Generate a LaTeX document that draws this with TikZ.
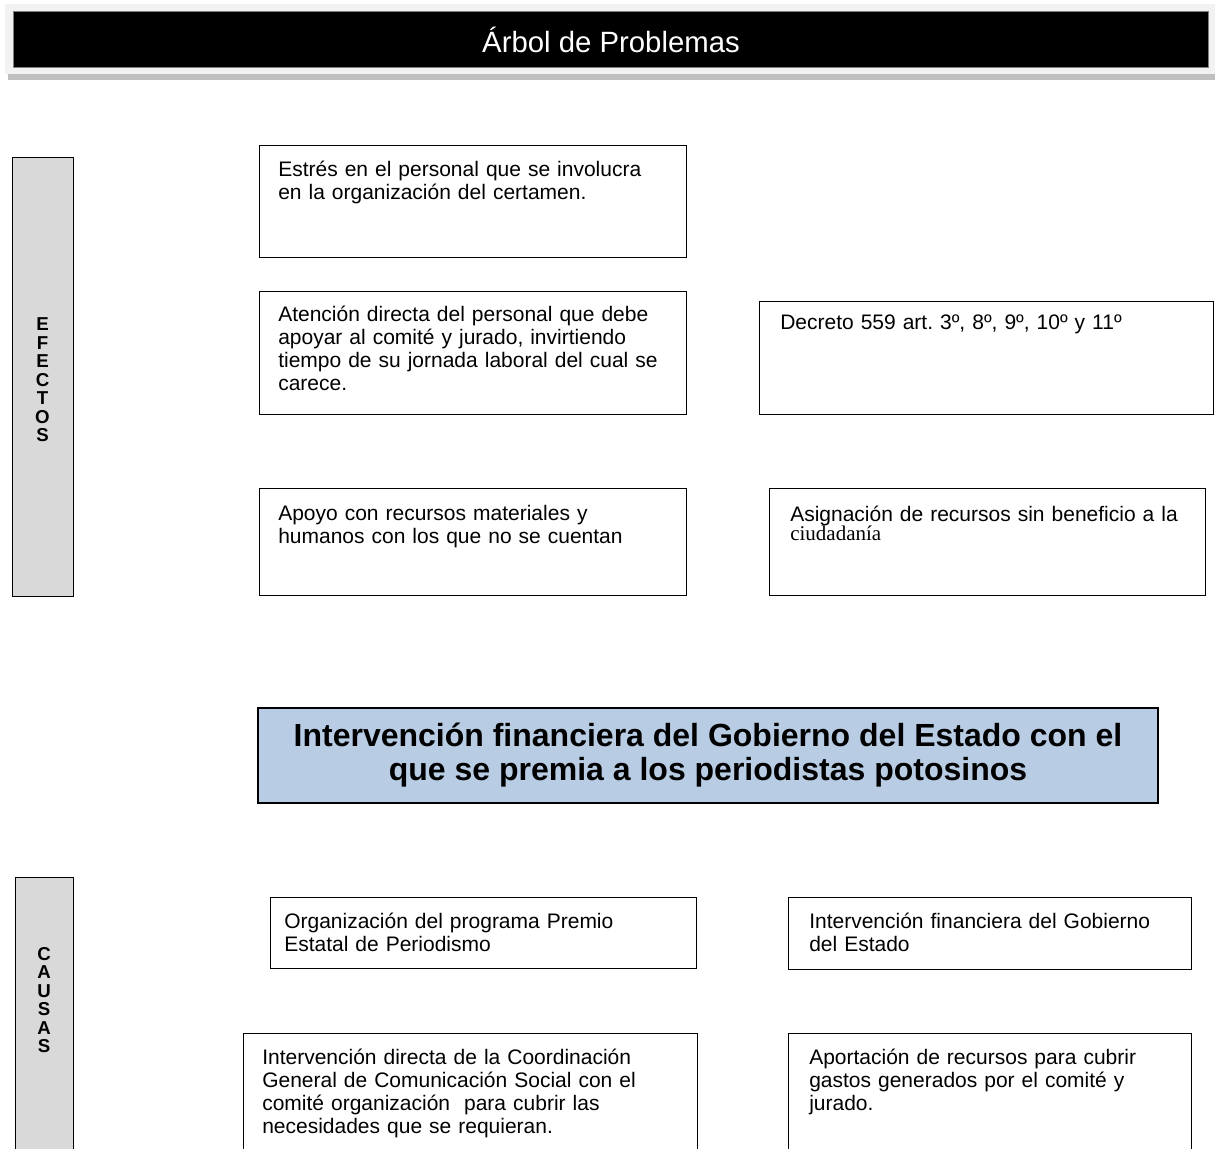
\documentclass[tikz,border=0pt]{standalone}
\usepackage{fontspec}
\setmainfont{Liberation Sans}
\newfontfamily\serifword{Liberation Serif}
\usepackage{tikz}
\usetikzlibrary{positioning}
\frenchspacing
\definecolor{sidegray}{RGB}{217,217,217}
\definecolor{probblue}{RGB}{184,204,228}
\definecolor{headbg}{RGB}{242,242,242}
\definecolor{headshadow}{RGB}{191,191,191}
\definecolor{headedge}{RGB}{128,128,128}
\newcommand{\pxu}{0.75pt}
\newcommand{\bodytext}{\fontsize{15.75pt}{17.25pt}\selectfont}
\tikzstyle{cell} = [rectangle, draw=black, line width=1.1pt, anchor=north west, inner sep=0pt]
\tikzstyle{celltext} = [anchor=base west, inner sep=0pt, align=left, text width=330pt, font=\bodytext]
\tikzstyle{sidebar} = [rectangle, draw=black, line width=1.1pt, fill=sidegray, anchor=north west, inner sep=0pt]
\tikzstyle{sideletters} = [align=center, inner sep=0pt, font=\fontsize{14pt}{13.9pt}\selectfont\bfseries]

\begin{document}
\begin{tikzpicture}[x=0.75pt, y=-0.75pt]
\clip (0,0) rectangle (1215,1149);
\fill[white] (0,0) rectangle (1215,1149);

% Header band
\fill[headbg] (5,4) rectangle (1215,74);
\fill[headshadow] (8,74) rectangle (1215,80);
\node[rectangle, draw=headedge, fill=black, line width=0.8pt, anchor=north west, inner sep=0pt,
  minimum width=1195*\pxu, minimum height=56*\pxu] (head) at (13,11) {};
\node[text=white, font=\fontsize{22pt}{26pt}\selectfont] (title) at (head.center) {Árbol de Problemas};

% Side bars
\node[sidebar, minimum width=61*\pxu, minimum height=439*\pxu] (efectos) at (12,157) {};
\node[sideletters] (eflabel) at (42.5,380) {E\\F\\E\\C\\T\\O\\S};
\node[sidebar, minimum width=58*\pxu, minimum height=290*\pxu] (causas) at (15,877) {};
\node[sideletters] (calabel) at (44,1000) {C\\A\\U\\S\\A\\S};

% Effects
\node[cell, minimum width=427*\pxu, minimum height=112*\pxu] (ef1) at (259,145) {};
\node[celltext] (ef1t) at (278,176) {Estrés en el personal que se involucra\\en la organización del certamen.};
\node[cell, minimum width=427*\pxu, minimum height=123*\pxu] (ef2) at (259,291) {};
\node[celltext] (ef2t) at (278,321) {Atención directa del personal que debe\\apoyar al comité y jurado, invirtiendo\\tiempo de su jornada laboral del cual se\\carece.};
\node[cell, minimum width=454*\pxu, minimum height=113*\pxu] (ef3) at (759,301) {};
\node[celltext] (ef3t) at (780,329) {Decreto 559 art. 3º, 8º, 9º, 10º y 11º};
\node[cell, minimum width=427*\pxu, minimum height=107*\pxu] (ef4) at (259,488) {};
\node[celltext] (ef4t) at (278,520) {Apoyo con recursos materiales y\\humanos con los que no se cuentan};
\node[cell, minimum width=436*\pxu, minimum height=107*\pxu] (ef5) at (769,488) {};
\node[celltext] (ef5t) at (790,521) {Asignación de recursos sin beneficio a la\\[-3pt]{\serifword ciudadanía}};

% Central problem
\node[rectangle, draw=black, line width=1.1pt, fill=probblue, minimum width=900*\pxu, minimum height=95*\pxu,
  align=center, font=\fontsize{24pt}{25.5pt}\selectfont\bfseries] (problem) at (708,755.5)
  {Intervención financiera del Gobierno del Estado con el\\que se premia a los periodistas potosinos};

% Causes
\node[cell, minimum width=426*\pxu, minimum height=71*\pxu] (ca1) at (270,897) {};
\node[celltext] (ca1t) at (284,928) {Organización del programa Premio\\Estatal de Periodismo};
\node[cell, minimum width=403*\pxu, minimum height=72*\pxu] (ca2) at (788,897) {};
\node[celltext] (ca2t) at (809,928) {Intervención financiera del Gobierno\\del Estado};
\node[cell, minimum width=454*\pxu, minimum height=140*\pxu] (ca3) at (243,1033) {};
\node[celltext] (ca3t) at (262,1064) {Intervención directa de la Coordinación\\General de Comunicación Social con el\\comité organización~ para cubrir las\\necesidades que se requieran.};
\node[cell, minimum width=403*\pxu, minimum height=140*\pxu] (ca4) at (788,1033) {};
\node[celltext] (ca4t) at (809,1064) {Aportación de recursos para cubrir\\gastos generados por el comité y\\jurado.};
\end{tikzpicture}
\end{document}
